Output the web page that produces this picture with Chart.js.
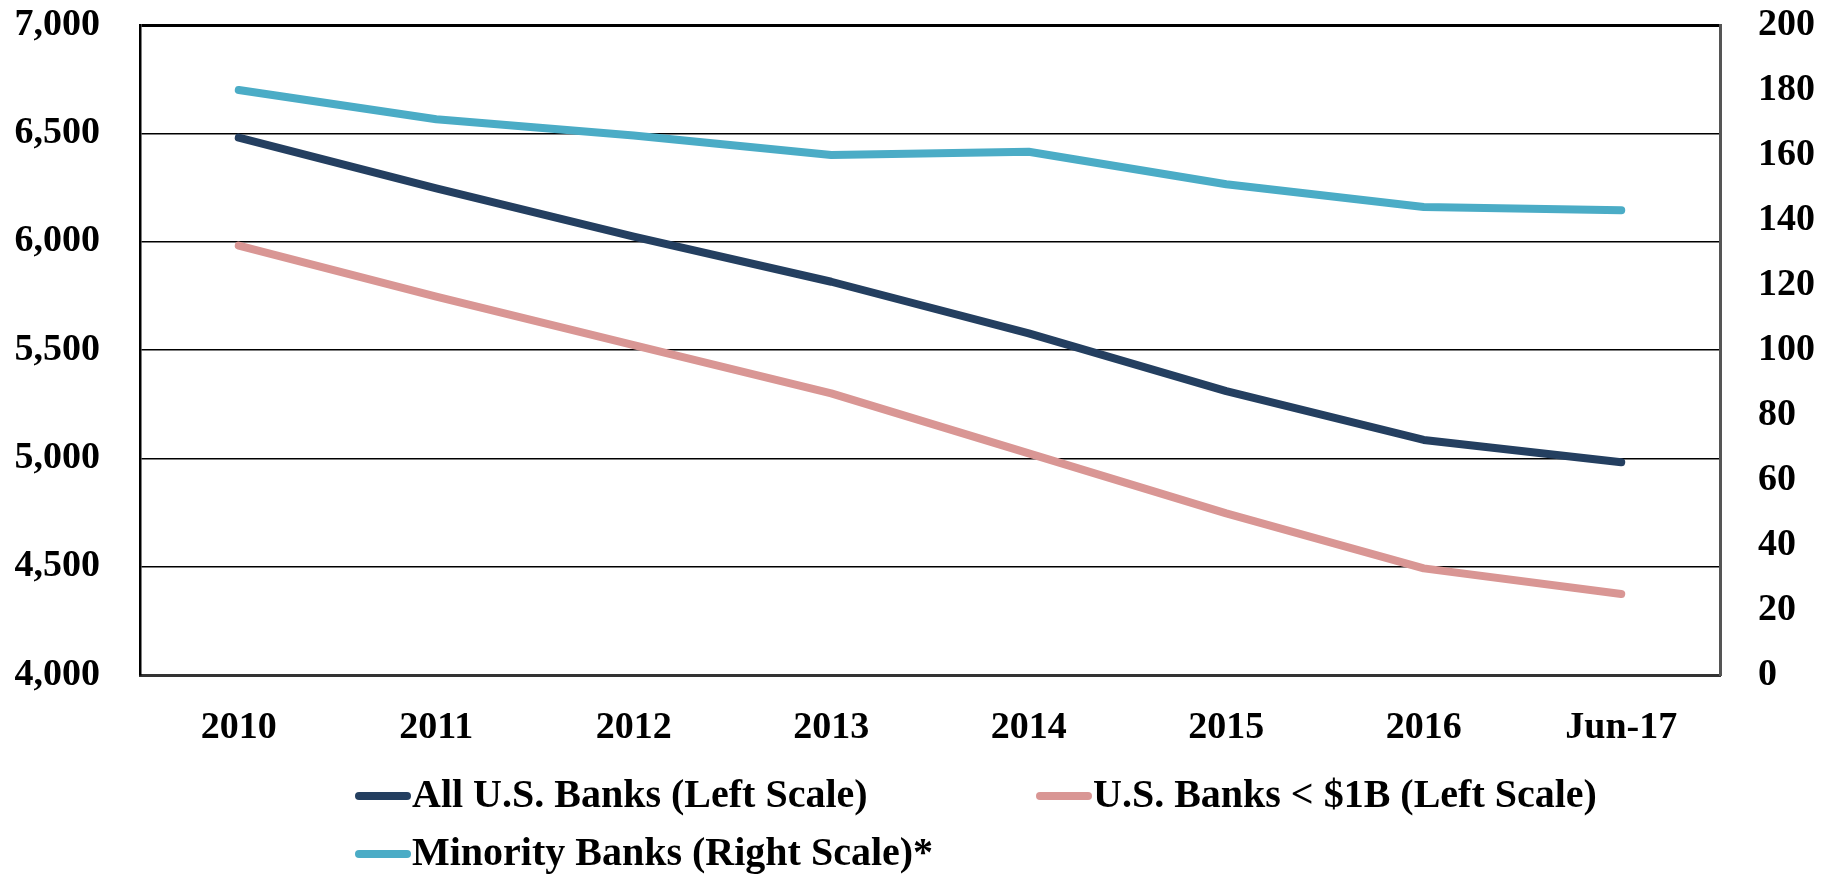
<!DOCTYPE html>
<html>
<head>
<meta charset="utf-8">
<script src="https://cdn.jsdelivr.net/npm/chart.js@4.4.1/dist/chart.umd.min.js"></script>
<style>
  body { margin: 0; background: #fff; }
  canvas { display: block; }
</style>
</head>
<body>
<canvas id="chart-area" width="1831" height="876"></canvas>
<script>
// bank counts by year
var years = ["2010", "2011", "2012", "2013", "2014", "2015", "2016", "Jun-17"];
var allBanks = [6480, 6246, 6023, 5815, 5577, 5310, 5085, 4982];
var smallBanks = [5982, 5746, 5523, 5300, 5023, 4746, 4492, 4374];
var minorityBanks = [180, 171, 166, 160, 161, 151, 144, 143];

var leftTicks = { min: 4000, max: 7000, step: 500 };
var rightTicks = { min: 0, max: 200, step: 20 };

var seriesLabels = [
    "All U.S. Banks (Left Scale)",
    "U.S. Banks < $1B (Left Scale)",
    "Minority Banks (Right Scale)*"
];
var palette = ["#243F60", "#D99694", "#4BACC6"];

var FONT = "'Liberation Serif', 'Times New Roman', serif";

// legend drawn under the axis, Excel style: two rows, sample line butted against the text
var legendSpots = [[355, 796], [1036, 796], [355, 854]];

var bottomLegend = {
    id: "bottomLegend",
    afterDraw: function (chart) {
        var ctx = chart.ctx;
        ctx.save();
        ctx.font = "bold 40px " + FONT;
        ctx.textBaseline = "middle";
        ctx.textAlign = "left";
        chart.data.datasets.forEach(function (ds, i) {
            var x = legendSpots[i][0], y = legendSpots[i][1];
            ctx.strokeStyle = ds.borderColor;
            ctx.lineWidth = 8;
            ctx.lineCap = "round";
            ctx.beginPath();
            ctx.moveTo(x + 4, y);
            ctx.lineTo(x + 52, y);
            ctx.stroke();
            ctx.fillStyle = "#000";
            ctx.fillText(ds.label, x + 57, y + 1);
        });
        ctx.restore();
    }
};

// fixed axis width, and no extra room above/below for the end labels
function fixWidth(w) {
    return function (scale) {
        scale.width = w;
        scale.paddingTop = 0;
        scale.paddingBottom = 0;
    };
}

function makeSeries(label, data, color, axis) {
    return {
        label: label,
        data: data,
        borderColor: color,
        backgroundColor: color,
        borderWidth: 8,
        borderCapStyle: "round",
        borderJoinStyle: "round",
        pointRadius: 0,
        pointHoverRadius: 0,
        tension: 0,
        fill: false,
        yAxisID: axis
    };
}

var config = {
    type: "line",
    data: {
        labels: years,
        datasets: [
            makeSeries(seriesLabels[0], allBanks, palette[0], "y"),
            makeSeries(seriesLabels[1], smallBanks, palette[1], "y"),
            makeSeries(seriesLabels[2], minorityBanks, palette[2], "y2")
        ]
    },
    options: {
        responsive: false,
        animation: false,
        devicePixelRatio: 1,
        layout: { padding: { top: 25, left: 0, right: 0, bottom: 0 } },
        plugins: {
            legend: { display: false },
            tooltip: { enabled: false }
        },
        scales: {
            x: {
                type: "category",
                offset: true,
                grid: { display: false, drawTicks: false },
                border: { display: true, color: "#333", width: 3 },
                ticks: {
                    color: "#000",
                    padding: 30,
                    maxRotation: 0,
                    font: { family: FONT, size: 38, weight: "bold" }
                },
                afterFit: function (scale) { scale.height = 201; }
            },
            y: {
                position: "left",
                min: leftTicks.min,
                max: leftTicks.max,
                grid: {
                    color: "#000",
                    drawTicks: false,
                    lineWidth: function (c) { return c.tick && c.tick.value === leftTicks.max ? 3 : 1.5; }
                },
                border: { display: true, color: "#000", width: 2.5 },
                ticks: {
                    stepSize: leftTicks.step,
                    color: "#000",
                    padding: 40,
                    font: { family: FONT, size: 38, weight: "bold" },
                    callback: function (v) { return v.toLocaleString("en-US"); }
                },
                afterFit: fixWidth(140)
            },
            y2: {
                position: "right",
                min: rightTicks.min,
                max: rightTicks.max,
                grid: { display: false, drawTicks: false },
                border: { display: true, color: "#555", width: 3 },
                ticks: {
                    stepSize: rightTicks.step,
                    color: "#000",
                    padding: 38,
                    font: { family: FONT, size: 38, weight: "bold" }
                },
                afterFit: fixWidth(111)
            }
        }
    },
    plugins: [bottomLegend]
};

function CreateGraph() {
    var ctx = document.getElementById("chart-area").getContext("2d");
    window.myLine = new Chart(ctx, config);
}

CreateGraph();
</script>
</body>
</html>
